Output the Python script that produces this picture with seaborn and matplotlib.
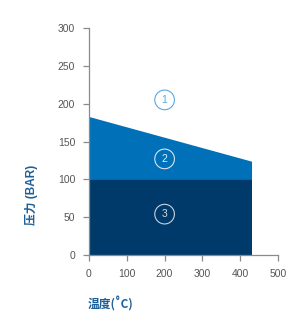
import numpy as np
import matplotlib
matplotlib.use("Agg")
import matplotlib.pyplot as plt
import seaborn as sns

# Data
temp = [0, 430]
upper_pressure = [183, 124]
lower_pressure = [100, 100]
zone_labels = ["1", "2", "3"]
zone_x = [200, 200, 200]
zone_y = [205, 127, 54]
xticks = [0, 100, 200, 300, 400, 500]
yticks = [0, 50, 100, 150, 200, 250, 300]

sns.set_style("ticks")
plt.rcParams['font.family'] = ['Liberation Sans', 'Noto Sans CJK SC', 'DejaVu Sans']

fig = plt.figure(figsize=(2.96, 3.24), dpi=100)
ax = fig.add_axes([89/296, 1-255/324, (278-89)/296, (255-28)/324])

dark = "#003a6b"
mid = "#0070b8"
light = "#5aa9de"
label_blue = "#1d5f98"
grey = "#8a8a8a"

ax.fill_between(temp, [0, 0], lower_pressure, color=dark, linewidth=0)
ax.fill_between(temp, lower_pressure, upper_pressure, color=mid, linewidth=0)

edge_colors = [light, "#d8e4ef", "#c8d2dc"]
text_colors = [light, "#e6eef5", "#d8dde3"]
for lab, x, y, ec, tc in zip(zone_labels, zone_x, zone_y, edge_colors, text_colors):
    ax.scatter([x], [y], s=200, facecolors="none", edgecolors=ec, linewidths=0.8, zorder=3)
    ax.text(x, y, lab, ha="center", va="center", fontsize=7.5, color=tc, zorder=4)

ax.set_xlim(0, 500)
ax.set_ylim(0, 300)
ax.set_xticks(xticks)
ax.set_yticks(yticks)
ax.margins(0)
sns.despine(ax=ax)
for s in ["left", "bottom"]:
    ax.spines[s].set_color(grey)
    ax.spines[s].set_linewidth(0.9)
ax.tick_params(axis="both", colors=grey, labelcolor="#555555", labelsize=7.5,
               length=4, width=0.9, pad=6)

lab_family = ['Liberation Sans', 'Noto Sans CJK SC', 'DejaVu Sans']
ax.set_xlabel("温度(˚C)", color=label_blue, fontsize=8.5, fontweight="bold",
              family=['Noto Sans CJK SC', 'DejaVu Sans'])
ax.xaxis.set_label_coords(0.116, -0.185)
ax.set_ylabel("压力 (BAR)", color=label_blue, fontsize=8.5, fontweight="bold",
              family=lab_family)
ax.yaxis.set_label_coords(-0.27, 0.265)

fig.savefig("out.png", dpi=100)
